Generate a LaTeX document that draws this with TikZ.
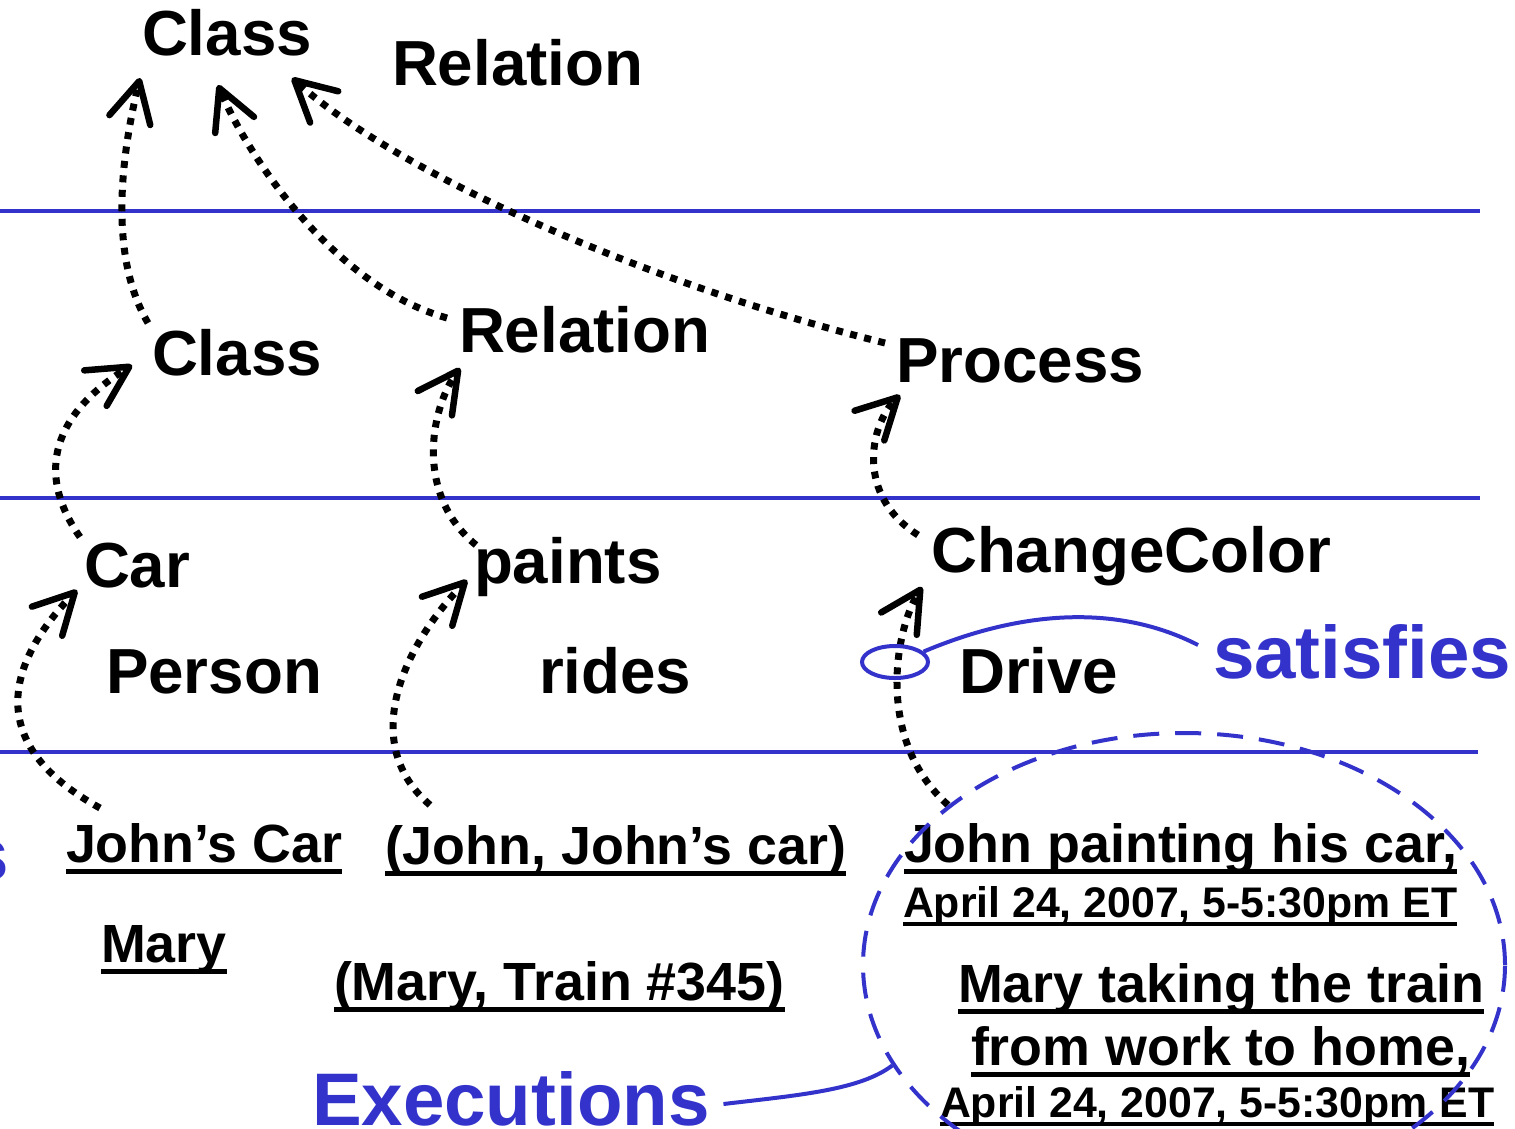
\documentclass[tikz,border=0pt]{standalone}
\usepackage{fontspec}
\setmainfont{Liberation Sans}
\usetikzlibrary{arrows.meta,shapes.geometric}
\definecolor{lineblue}{RGB}{51,51,204}
\begin{document}
\begin{tikzpicture}[x=1pt,y=-1pt,
  lbl/.style={inner sep=0pt,outer sep=0pt,anchor=base west,font=\bfseries\fontsize{63.7}{70}\selectfont},
  bigblue/.style={lbl,text=lineblue,font=\bfseries\fontsize{74.5}{80}\selectfont},
  inst/.style={lbl,font=\bfseries\fontsize{53.8}{60}\selectfont},
  when/.style={lbl,font=\bfseries\fontsize{42.8}{48}\selectfont},
  uline/.style={line width=5pt},
  sline/.style={line width=4pt},
  level/.style={draw=lineblue,line width=4.5pt},
  dotarr/.style={line width=7pt,dash pattern=on 7pt off 7.5pt,
    -{Straight Barb[length=40pt,width=42pt,line width=6.5pt,round]}},
  callout/.style={draw=lineblue,line width=4pt}
]
\useasboundingbox (0,0) rectangle (1515,1128);

% level separators
\draw[level] (0,211) -- (1480,211);
\draw[level] (0,498) -- (1480,498);
\draw[level] (0,752) -- (1478,752);

% meta level
\node[lbl] (classA) at (142,55) {Class};
\node[lbl] (relA) at (392,85) {Relation};

% model level
\node[lbl] (classB) at (152,375) {Class};
\node[lbl] (relB) at (459,352) {Relation};
\node[lbl] (proc) at (896,382) {Process};

% type level
\node[lbl] (car) at (84,587) {Car};
\node[lbl] (paints) at (474,583) {paints};
\node[lbl] (chg) at (931,572) {ChangeColor};
\node[lbl] (person) at (106,693) {Person};
\node[lbl] (rides) at (539,693) {rides};
\node[lbl] (drive) at (959,693) {Drive};
\node[bigblue] (satisfies) at (1213,678) {satisfies};

% instance level
\node[bigblue,anchor=base east] (cutS) at (9,880) {s};
\node[inst] (jcar) at (66,862) {John’s Car};
\node[inst] (jjc) at (385,864) {(John, John’s car)};
\node[inst] (mary) at (101,962) {Mary};
\node[inst] (mtrain) at (334,1000) {(Mary, Train \#345)};
\node[inst] (jpaint) at (904,862) {John painting his car,};
\node[when] (april1) at (903,917) {April 24, 2007, 5-5:30pm ET};
\node[inst] (mtake) at (958,1002) {Mary taking the train};
\node[inst] (fwork) at (971,1065) {from work to home,};
\node[when] (april2) at (940,1117) {April 24, 2007, 5-5:30pm ET};
\node[bigblue] (exec) at (312,1125) {Executions};

% underlines of the instances
\foreach \n in {jcar,jjc,mary,mtrain,jpaint,mtake,fwork}
  \draw[uline] ([shift={(0,9)}]\n.base west) -- ([shift={(0,9)}]\n.base east);
\foreach \n in {april1,april2}
  \draw[sline] ([shift={(0,7)}]\n.base west) -- ([shift={(0,7)}]\n.base east);

% instance-of arrows
\draw[dotarr] ([shift={(-4,-52)}]classB.base west) .. controls (105,250) and (125,140) .. ([shift={(-2,23)}]classA.base west);
\draw[dotarr] ([shift={(-12,-34)}]relB.base west) .. controls (330,285) and (245,150) .. ([shift={(76,30)}]classA.base west);
\draw[dotarr] ([shift={(-11,-39)}]proc.base west) .. controls (650,285) and (400,175) .. ([shift={(150,23)}]classA.base west);
\draw[dotarr] ([shift={(-4,-50)}]car.base west) .. controls (40,480) and (45,420) .. ([shift={(-20,-10)}]classB.base west);
\draw[dotarr] ([shift={(34,-54)}]jcar.base west) .. controls (-15,745) and (5,665) .. ([shift={(-7,3)}]car.base west);
\draw[dotarr] ([shift={(45,-59)}]jjc.base west) .. controls (360,745) and (400,650) .. ([shift={(-7,-3)}]paints.base west);
\draw[dotarr] ([shift={(2,-38)}]paints.base west) .. controls (415,495) and (430,410) .. ([shift={(1,16)}]relB.base west);
\draw[dotarr] ([shift={(-13,-37)}]chg.base west) .. controls (855,495) and (870,425) .. ([shift={(4,13)}]proc.base west);
\draw[dotarr] ([shift={(44,-57)}]jpaint.base west) .. controls (875,740) and (895,630) .. ([shift={(-9,15)}]chg.base west);

% satisfies callout
\node[callout,ellipse,minimum width=66pt,minimum height=32pt,inner sep=0pt] (sel) at (895,662) {};
\draw[callout] (sel.20) .. controls (1010,615) and (1110,600) .. ([shift={(-15,-33)}]satisfies.base west);

% executions callout
\node[callout,ellipse,dash pattern=on 26pt off 16pt,minimum width=642pt,minimum height=464pt,inner sep=0pt] (execs) at (1184,965) {};
\draw[callout] ([shift={(14,-21)}]exec.base east) .. controls (800,1095) and (860,1090) .. (execs.199);
\end{tikzpicture}
\end{document}
